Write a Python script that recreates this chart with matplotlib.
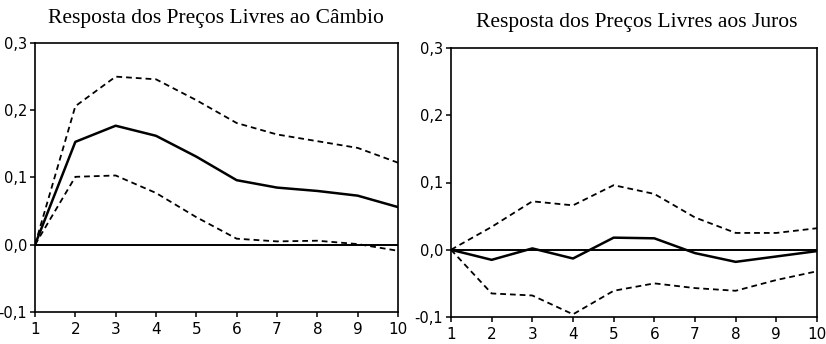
import numpy as np
import matplotlib
matplotlib.use('Agg')
import matplotlib.pyplot as plt

# horizons and impulse responses (point estimate with +/- 2 s.e. bands)
periods = [1, 2, 3, 4, 5, 6, 7, 8, 9, 10]

cambio_resp = [0.0, 0.153, 0.177, 0.162, 0.131, 0.096, 0.085, 0.080, 0.073, 0.056]
cambio_upper = [0.0, 0.206, 0.250, 0.246, 0.215, 0.181, 0.164, 0.154, 0.144, 0.122]
cambio_lower = [0.0, 0.101, 0.103, 0.077, 0.041, 0.009, 0.005, 0.006, 0.001, -0.009]

juros_resp = [0.0, -0.015, 0.002, -0.013, 0.018, 0.017, -0.005, -0.018, -0.010, -0.002]
juros_upper = [0.0, 0.034, 0.072, 0.066, 0.096, 0.083, 0.048, 0.025, 0.025, 0.032]
juros_lower = [0.0, -0.065, -0.068, -0.096, -0.061, -0.050, -0.057, -0.061, -0.045, -0.032]

y_ticks = [-0.1, 0.0, 0.1, 0.2, 0.3]
y_tick_labels = ['-0,1', '0,0', '0,1', '0,2', '0,3']

titles = ['Resposta dos Preços Livres ao Câmbio',
          'Resposta dos Preços Livres aos Juros']

W, H = 826, 344
fig = plt.figure(figsize=(W / 100, H / 100), dpi=100)


def draw_panel(rect, resp, upper, lower, title, title_x, title_y):
    ax = fig.add_axes(rect)
    ax.axhline(0, color='black', lw=1.4)
    ax.plot(periods, upper, color='black', lw=1.3, ls=(0, (3.2, 2.2)))
    ax.plot(periods, lower, color='black', lw=1.3, ls=(0, (3.2, 2.2)))
    ax.plot(periods, resp, color='black', lw=1.8)
    ax.set_xlim(1, 10)
    ax.set_ylim(-0.1, 0.3)
    ax.set_xticks(periods)
    ax.set_yticks(y_ticks)
    ax.set_yticklabels(y_tick_labels)
    ax.tick_params(direction='out', length=3.5, width=1.1, labelsize=10.5)
    ax.tick_params(axis='x', pad=4, labelsize=11)
    ax.tick_params(axis='y', pad=2)
    for s in ax.spines.values():
        s.set_linewidth(1.2)
    fig.text(title_x / W, 1 - title_y / H, title, ha='center', va='center',
             fontsize=15.5, family='Liberation Serif')
    return ax


draw_panel([35 / W, 1 - 312 / H, 363 / W, 269 / H],
           cambio_resp, cambio_upper, cambio_lower, titles[0], 216, 19)
draw_panel([451 / W, 1 - 317 / H, 366 / W, 269 / H],
           juros_resp, juros_upper, juros_lower, titles[1], 637, 22)

fig.savefig('out.png', dpi=100)
